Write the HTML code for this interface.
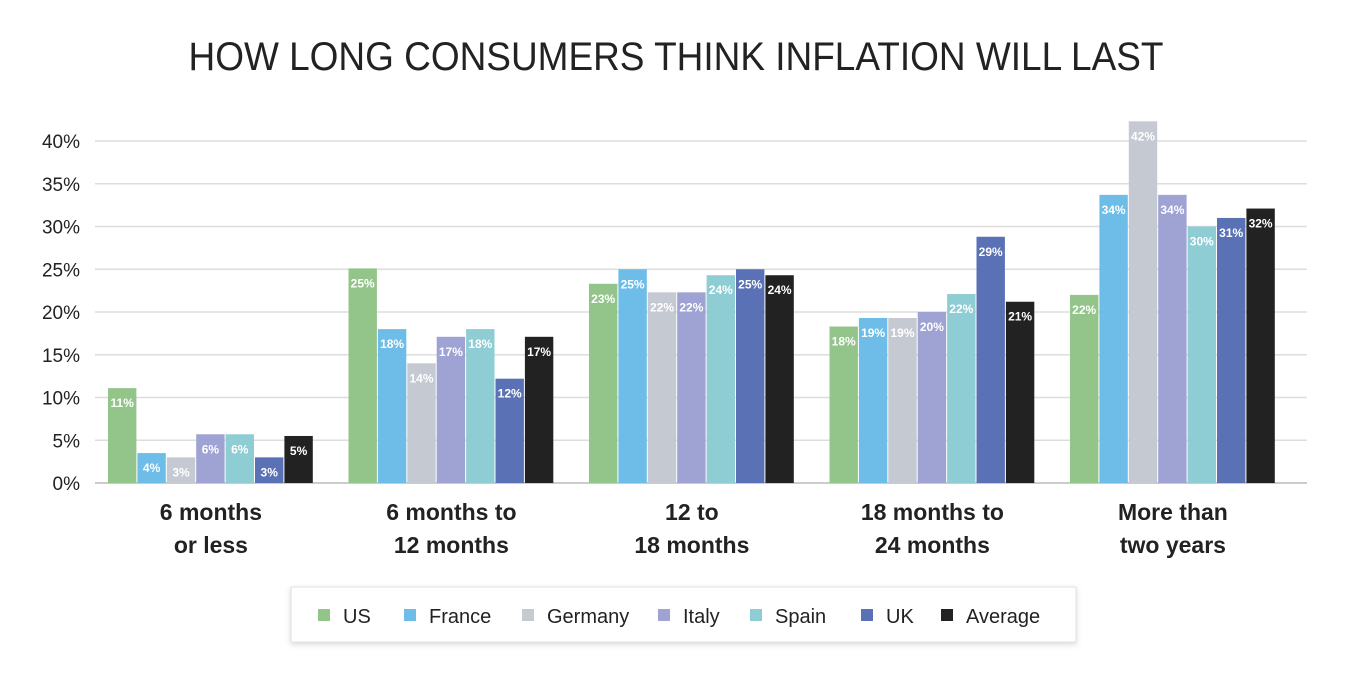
<!DOCTYPE html>
<html><head><meta charset="utf-8"><style>
body{margin:0;width:1371px;height:686px;background:#fff;font-family:"Liberation Sans",sans-serif;overflow:hidden}
</style></head><body>
<svg width="1371" height="686">
<text x="676" y="70" text-anchor="middle" font-size="40" fill="#222" textLength="975" lengthAdjust="spacingAndGlyphs">HOW LONG CONSUMERS THINK INFLATION WILL LAST</text>
<g id="grid"></g><g id="bars"></g><g id="xl"></g>
<rect x="291" y="587" width="785" height="55" fill="#fff" stroke="#e2e2e2" style="filter:drop-shadow(0 2px 3px rgba(0,0,0,0.15))"/>
<g id="legend"></g>
</svg>
<script>
const categories=[["6 months","or less"],["6 months to","12 months"],["12 to","18 months"],["18 months to","24 months"],["More than","two years"]];
const seriesNames=["US","France","Germany","Italy","Spain","UK","Average"];
const US=[11.1,25.1,23.3,18.3,22];
const France=[3.5,18,25,19.3,33.7];
const Germany=[3,14,22.3,19.3,42.3];
const Italy=[5.7,17.1,22.3,20,33.7];
const Spain=[5.7,18,24.3,22.1,30];
const UK=[3,12.2,25,28.8,31];
const Average=[5.5,17.1,24.3,21.2,32.1];
const labelsUS=["11%","25%","23%","18%","22%"],labelsFR=["4%","18%","25%","19%","34%"],labelsDE=["3%","14%","22%","19%","42%"],labelsIT=["6%","17%","22%","20%","34%"],labelsES=["6%","18%","24%","22%","30%"],labelsUK=["3%","12%","25%","29%","31%"],labelsAVG=["5%","17%","24%","21%","32%"];
const yTicks=[0,5,10,15,20,25,30,35,40];
const series=[US,France,Germany,Italy,Spain,UK,Average];
const labels=[labelsUS,labelsFR,labelsDE,labelsIT,labelsES,labelsUK,labelsAVG];
const colors=["#93c58a","#6dbde8","#c5c9d2","#9ea3d3","#8fcdd4","#5a72b5","#222222"];
const NS="http://www.w3.org/2000/svg";
const x0=95,x1=1307,y0=483,pxPer=8.55,gw=240.5,bw=29.4;
const y=v=>y0-v*pxPer;
function mk(t,a,p){const e=document.createElementNS(NS,t);for(const k in a)e.setAttribute(k,a[k]);p.appendChild(e);return e;}
const grid=document.getElementById('grid');
yTicks.forEach(t=>{
 const l=mk('line',{x1:x0,x2:x1,y1:y(t),y2:y(t),stroke:t==0?'#ccc':'#ddd','stroke-width':t==0?2:1.5},grid);
 
 
 const tx=mk('text',{x:80,y:y(t)+7,'text-anchor':'end','font-size':19,fill:'#222'},grid);tx.textContent=t+'%';
 
 
});
const bars=document.getElementById('bars');
categories.forEach((c,i)=>{
 series.forEach((s,j)=>{
  const bx=x0+i*gw+13+j*bw;
  const r=mk('rect',{x:bx,y:y(s[i]),width:bw-1,height:s[i]*pxPer,fill:colors[j]},bars);
  
  
  const t=mk('text',{x:bx+(bw-1)/2,y:y(s[i])+19,'text-anchor':'middle','font-size':12,'font-weight':'bold',fill:'#fff'},bars);
  t.textContent=labels[j][i];
  
  
 });
 const cx=x0+i*gw+13+3.5*bw;
 c.forEach((ln,k)=>{
  const t=mk('text',{x:cx,y:520+k*33,'text-anchor':'middle','font-size':23,'font-weight':'bold',fill:'#222'},document.getElementById('xl'));
  t.textContent=ln;
  
  
 });
});
const lg=document.getElementById('legend');
const lx=[318,404,522,658,750,861,941];
seriesNames.forEach((n,j)=>{
 const r=mk('rect',{x:lx[j],y:609,width:12,height:12,fill:colors[j]},lg);
 
 
 const t=mk('text',{x:lx[j]+25,y:623,'font-size':20,fill:'#222'},lg);t.textContent=n;
 
 
});
</script>
</body></html>
